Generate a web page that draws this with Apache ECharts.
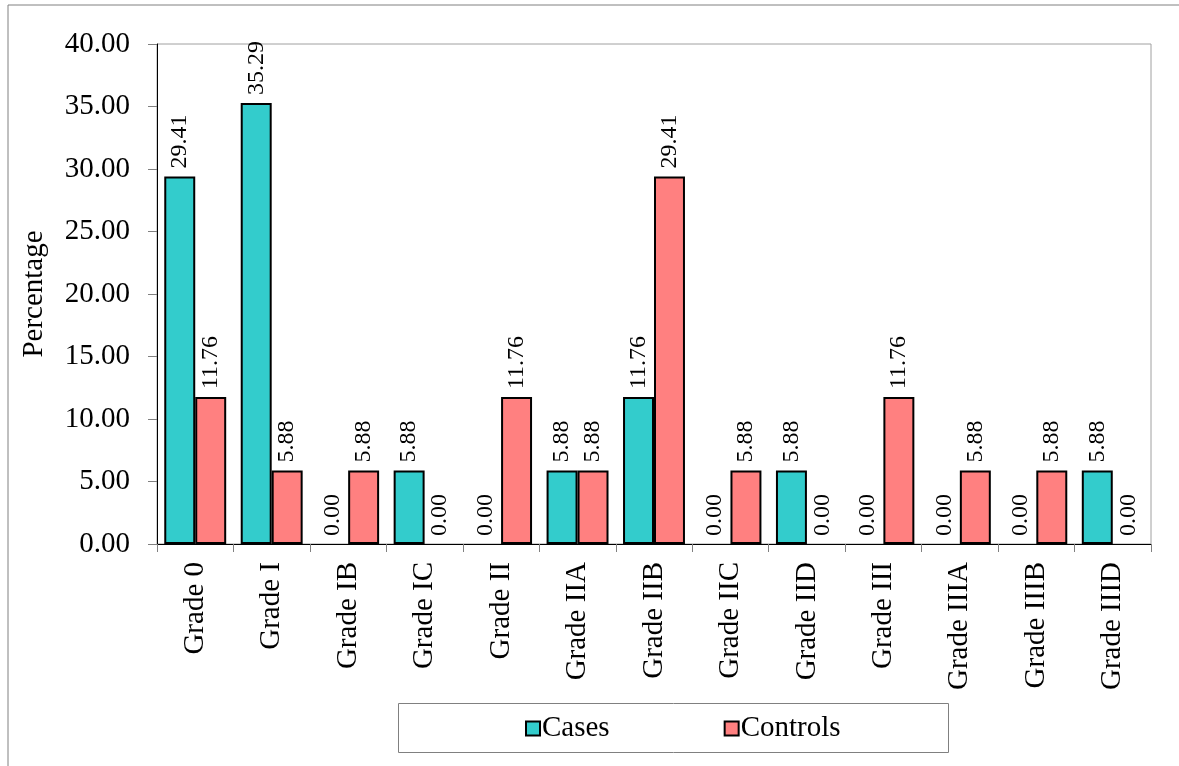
<!DOCTYPE html>
<html>
<head>
<meta charset="utf-8">
<script src="https://cdn.jsdelivr.net/npm/echarts@6/dist/echarts.min.js"></script>
<style>
  html, body { margin: 0; padding: 0; background: #fff; }
  #main { width: 1179px; height: 766px; }
</style>
</head>
<body>
<div id="main"></div>
<script>
// categories on the x axis
var grades = ['Grade 0', 'Grade I', 'Grade IB', 'Grade IC', 'Grade II', 'Grade IIA', 'Grade IIB',
  'Grade IIC', 'Grade IID', 'Grade III', 'Grade IIIA', 'Grade IIIB', 'Grade IIID'];
// percentages
var cases = [29.41, 35.29, 0.00, 5.88, 0.00, 5.88, 11.76, 0.00, 5.88, 0.00, 0.00, 0.00, 5.88];
var controls = [11.76, 5.88, 5.88, 0.00, 11.76, 5.88, 29.41, 5.88, 0.00, 11.76, 5.88, 5.88, 0.00];

var serif = '"Liberation Serif", "Times New Roman", serif';

var chart = echarts.init(document.getElementById('main'));

// zero bars get no border (only the label shows)
function toBars(arr) {
  return arr.map(function (v) {
    return v === 0 ? { value: v, itemStyle: { borderWidth: 0 } } : { value: v };
  });
}

// label for each bar, rotated like in the original
var barLabel = {
  show: true,
  position: 'top',
  rotate: 90,
  align: 'left',
  verticalAlign: 'middle',
  distance: 8,
  fontFamily: serif,
  fontSize: 24,
  color: '#000',
  formatter: function (p) { return p.value.toFixed(2); }
};

chart.setOption({
  animation: false,
  textStyle: { fontFamily: serif },
  graphic: [
    {
      // outer frame (runs off the right and bottom edge)
      type: 'rect',
      shape: { x: 8, y: 5, width: 1200, height: 800 },
      style: { fill: 'none', stroke: '#808080', lineWidth: 1 },
      silent: true
    },
    {
      // legend frame
      type: 'rect',
      shape: { x: 398.5, y: 703.5, width: 550, height: 49 },
      style: { fill: 'none', stroke: '#808080', lineWidth: 1 },
      silent: true
    }
  ],
  grid: {
    left: 157, right: 28, top: 44, bottom: 222,
    show: true, borderColor: '#a0a0a0', borderWidth: 1
  },
  legend: {
    left: 525, top: 714,
    padding: 0,
    itemGap: 114,
    itemWidth: 14, itemHeight: 14,
    textStyle: { fontFamily: serif, fontSize: 29, color: '#000', padding: [0, 0, 0, -3] },
    data: [
      { name: 'Cases', icon: 'rect' },
      { name: 'Controls', icon: 'rect' }
    ]
  },
  xAxis: {
    type: 'category',
    data: grades,
    axisLine: { lineStyle: { color: '#000', width: 1 } },
    axisTick: { show: true, length: 8, lineStyle: { color: '#808080' } },
    axisLabel: {
      rotate: 90,
      interval: 0,
      margin: 18,
      fontFamily: serif,
      fontSize: 29,
      color: '#000'
    }
  },
  yAxis: {
    type: 'value',
    min: 0, max: 40, interval: 5,
    name: 'Percentage',
    nameLocation: 'middle',
    nameGap: 108,
    nameRotate: 90,
    nameTextStyle: { fontFamily: serif, fontSize: 29, color: '#000' },
    axisLine: { show: true, lineStyle: { color: '#000', width: 1 } },
    axisTick: { show: true, length: 9, lineStyle: { color: '#808080' } },
    splitLine: { show: false },
    axisLabel: {
      margin: 27,
      fontFamily: serif,
      fontSize: 29,
      color: '#000',
      formatter: function (v) { return v.toFixed(2); }
    }
  },
  series: [
    {
      name: 'Cases',
      type: 'bar',
      data: toBars(cases),
      barGap: '0%',
      barCategoryGap: '19%',
      itemStyle: { color: '#33CCCC', borderColor: '#000', borderWidth: 2 },
      label: barLabel
    },
    {
      name: 'Controls',
      type: 'bar',
      data: toBars(controls),
      itemStyle: { color: '#FF8080', borderColor: '#000', borderWidth: 2 },
      label: barLabel
    }
  ]
});
</script>
</body>
</html>
